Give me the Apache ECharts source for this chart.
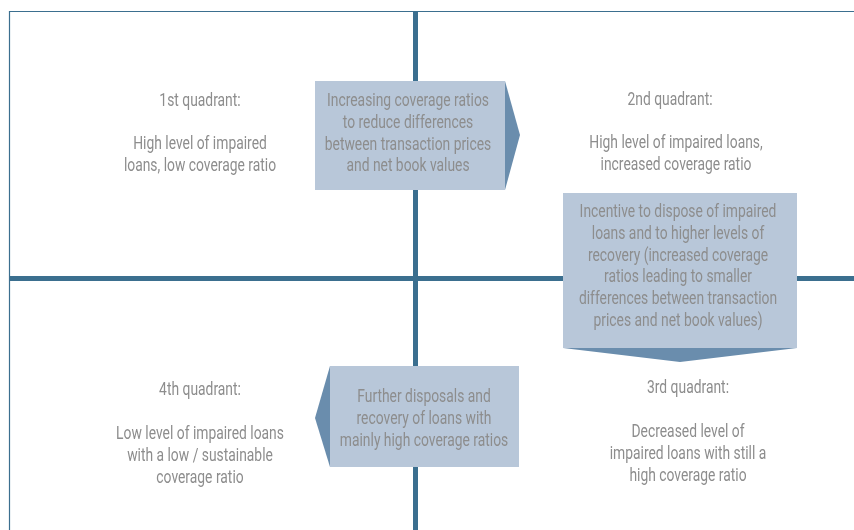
<!DOCTYPE html>
<html>
<head>
<meta charset="utf-8">
<script src="https://cdn.jsdelivr.net/npm/echarts@6/dist/echarts.min.js"></script>
<style>
  html, body { margin: 0; padding: 0; background: #fff; }
  #chart { width: 854px; height: 530px; }
</style>
</head>
<body>
<div id="chart"></div>
<script>
// quadrant labels and descriptions
var quadrantTitles = ['1st quadrant:', '2nd quadrant:', '3rd quadrant:', '4th quadrant:'];
var quadrantTexts = [
  ['High level of impaired', 'loans, low coverage ratio'],
  ['High level of impaired loans,', 'increased coverage ratio'],
  ['Decreased level of', 'impaired loans with still a', 'high coverage ratio'],
  ['Low level of impaired loans', 'with a low / sustainable', 'coverage ratio']
];
// transition boxes (1->2, 2->3, 3->4)
var transitionTexts = [
  ['Increasing coverage ratios', 'to reduce differences', 'between transaction prices', 'and net book values'],
  ['Incentive to dispose of impaired', 'loans and to higher levels of', 'recovery (increased coverage', 'ratios leading to smaller', 'differences between transaction', 'prices and net book values)'],
  ['Further disposals and', 'recovery of loans with', 'mainly high coverage ratios']
];

var FONT = '19px Roboto, "Liberation Sans", sans-serif';
var TEXT_COLOR = '#8d8d8d';
var LINE_COLOR = '#3b6f8f';
var BOX_FILL = '#b8c7d9';
var ARROW_FILL = '#6a8dad';
var LINE_H = 21.7;

// the source uses a condensed face: squeeze the text horizontally so that
// "Increasing coverage ratios" is about 162px wide
var ctx = document.createElement('canvas').getContext('2d');
ctx.font = FONT;
var squeeze = 162 / ctx.measureText(transitionTexts[0][0]).width;

// cy = vertical centre of the first line
function textBlock(lines, cx, cy) {
  return {
    type: 'text',
    z: 10,
    x: cx,
    y: cy + 1.5 - LINE_H / 2,
    scaleX: squeeze,
    style: {
      text: lines.join('\n'),
      x: 0, y: 0,
      align: 'center', verticalAlign: 'top',
      font: FONT,
      lineHeight: LINE_H,
      fill: TEXT_COLOR
    }
  };
}

var elements = [
  // outer frame
  { type: 'polyline', z: 1, shape: { points: [[9.5, 540], [9.5, 11.5], [860, 11.5]] },
    style: { stroke: LINE_COLOR, lineWidth: 1.2, fill: null } },
  // axes cross
  { type: 'line', z: 2, shape: { x1: 415.5, y1: 11, x2: 415.5, y2: 540 },
    style: { stroke: LINE_COLOR, lineWidth: 5 } },
  { type: 'line', z: 2, shape: { x1: 10, y1: 278.5, x2: 860, y2: 278.5 },
    style: { stroke: LINE_COLOR, lineWidth: 5 } },

  // box 1 with right arrow
  { type: 'rect', z: 5, shape: { x: 315, y: 81, width: 190, height: 109 }, style: { fill: BOX_FILL } },
  { type: 'polygon', z: 5, shape: { points: [[505, 81], [520, 135], [505, 190]] }, style: { fill: ARROW_FILL } },
  // box 2 with down arrow
  { type: 'rect', z: 5, shape: { x: 563, y: 193, width: 234, height: 155 }, style: { fill: BOX_FILL } },
  { type: 'polygon', z: 5, shape: { points: [[563, 348], [797, 348], [680, 362]] }, style: { fill: ARROW_FILL } },
  // box 3 with left arrow
  { type: 'rect', z: 5, shape: { x: 330, y: 366, width: 189, height: 101 }, style: { fill: BOX_FILL } },
  { type: 'polygon', z: 5, shape: { points: [[330, 366], [315, 418], [330, 467]] }, style: { fill: ARROW_FILL } },

  // quadrant titles
  textBlock([quadrantTitles[0]], 200, 100),
  textBlock([quadrantTitles[1]], 670, 99),
  textBlock([quadrantTitles[2]], 688, 387),
  textBlock([quadrantTitles[3]], 200, 389),
  // quadrant descriptions
  textBlock(quadrantTexts[0], 200, 143),
  textBlock(quadrantTexts[1], 676, 142),
  textBlock(quadrantTexts[2], 688, 431),
  textBlock(quadrantTexts[3], 200, 433),
  // transition texts
  textBlock(transitionTexts[0], 408, 100),
  textBlock(transitionTexts[1], 678, 211),
  textBlock(transitionTexts[2], 424, 396)
];

var chart = echarts.init(document.getElementById('chart'));
chart.setOption({
  backgroundColor: '#fff',
  animation: false,
  graphic: { elements: elements }
});
</script>
</body>
</html>
